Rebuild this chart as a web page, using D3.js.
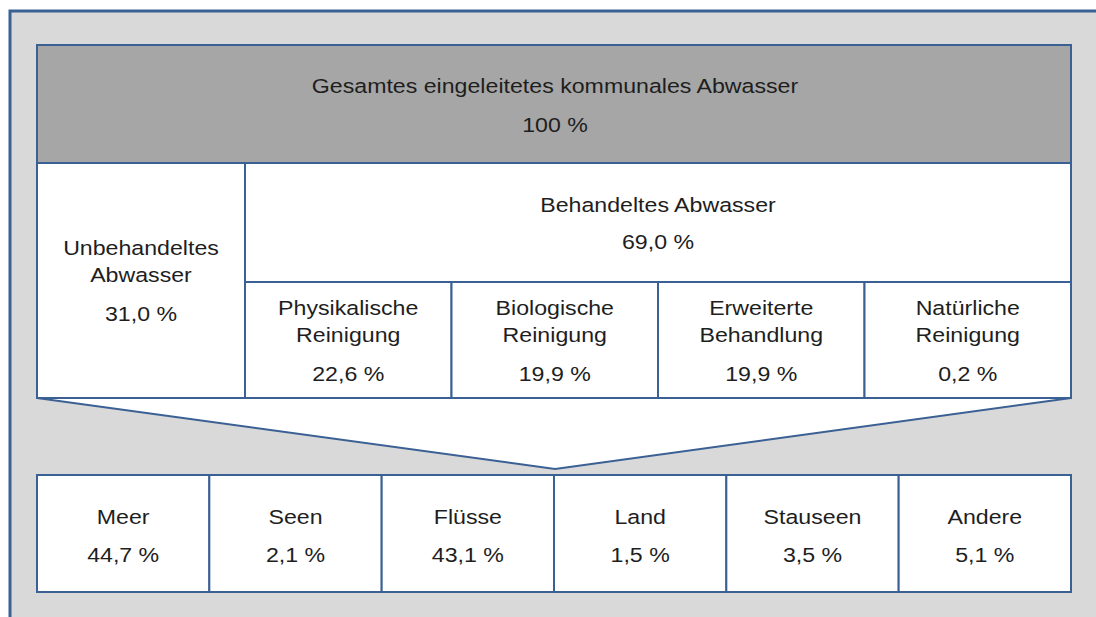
<!DOCTYPE html>
<html>
<head>
<meta charset="utf-8">
<script src="https://cdn.jsdelivr.net/npm/d3@7"></script>
<style>
  body { margin: 0; background: #fff; }
  text { font-family: "Liberation Sans", Arial, sans-serif; fill: #1e1e1e; }
</style>
</head>
<body>
<div class="chart"></div>
<script>
// total
const totalLabel = ["Gesamtes eingeleitetes kommunales Abwasser"];
const totalValue = 100;
// split treated / untreated
const untreatedLabel = ["Unbehandeltes", "Abwasser"];
const untreatedValue = 31.0;
const treatedLabel = ["Behandeltes Abwasser"];
const treatedValue = 69.0;
// treatment kinds
const treatNames = [["Physikalische", "Reinigung"], ["Biologische", "Reinigung"], ["Erweiterte", "Behandlung"], ["Natürliche", "Reinigung"]];
const treatValues = [22.6, 19.9, 19.9, 0.2];
// receiving waters
const destNames = ["Meer", "Seen", "Flüsse", "Land", "Stauseen", "Andere"];
const destValues = [44.7, 2.1, 43.1, 1.5, 3.5, 5.1];

const W = 1096, H = 617;
const blue = "#3b6094";
const fmt = v => (v === 100 ? "100" : d3.format(".1f")(v).replace(".", ",")) + " %";

const svg = d3.select(".chart").append("svg")
  .attr("width", W)
  .attr("height", H);

// outer frame
svg.append("rect")
  .attr("x", 10).attr("y", 11)
  .attr("width", W + 20).attr("height", H + 20)
  .attr("fill", "#d9d9d9")
  .attr("stroke", blue)
  .attr("stroke-width", 3);

const left = 37, right = 1071;
const yTop = 45, yHead = 163, ySub = 282, yBot = 398, yApex = 469;
const yDest = 475, yDestBot = 592;
const xSplit = 245;

const xTreat = d3.scaleBand()
  .domain(d3.range(treatNames.length))
  .range([xSplit, right]);

const xDest = d3.scaleBand()
  .domain(d3.range(destNames.length))
  .range([left, right]);

// funnel triangle under the upper block
svg.append("path")
  .attr("d", d3.line()([[left, yBot], [(left + right) / 2 + 1, yApex], [right, yBot]]))
  .attr("fill", "#fff")
  .attr("stroke", blue)
  .attr("stroke-width", 2);

function box(x, y, w, h, fill) {
  svg.append("rect")
    .attr("x", x).attr("y", y)
    .attr("width", w).attr("height", h)
    .attr("fill", fill)
    .attr("stroke", blue)
    .attr("stroke-width", 2);
}

// text in the reference is a bit wider than plain Arial
function label(cx, baselines, lines) {
  svg.append("g").selectAll("text")
    .data(lines)
    .join("text")
    .attr("transform", (d, i) => `translate(${cx},${baselines[i]}) scale(1.13,1)`)
    .attr("text-anchor", "middle")
    .attr("font-size", 20.5)
    .text(d => d);
}

// header
box(left, yTop, right - left, yHead - yTop, "#a6a6a6");
label((left + right) / 2 + 1, [93, 132], [...totalLabel, fmt(totalValue)]);

// untreated
box(left, yHead, xSplit - left, yBot - yHead, "#fff");
label((left + xSplit) / 2, [255, 282, 321], [...untreatedLabel, fmt(untreatedValue)]);

// treated
box(xSplit, yHead, right - xSplit, ySub - yHead, "#fff");
label((xSplit + right) / 2, [212, 249], [...treatedLabel, fmt(treatedValue)]);

treatNames.forEach((n, i) => {
  box(xTreat(i), ySub, xTreat.bandwidth(), yBot - ySub, "#fff");
  label(xTreat(i) + xTreat.bandwidth() / 2, [315, 342, 381], [...n, fmt(treatValues[i])]);
});

// destinations
destNames.forEach((n, i) => {
  box(xDest(i), yDest, xDest.bandwidth(), yDestBot - yDest, "#fff");
  label(xDest(i) + xDest.bandwidth() / 2, [524, 562], [n, fmt(destValues[i])]);
});
</script>
</body>
</html>
